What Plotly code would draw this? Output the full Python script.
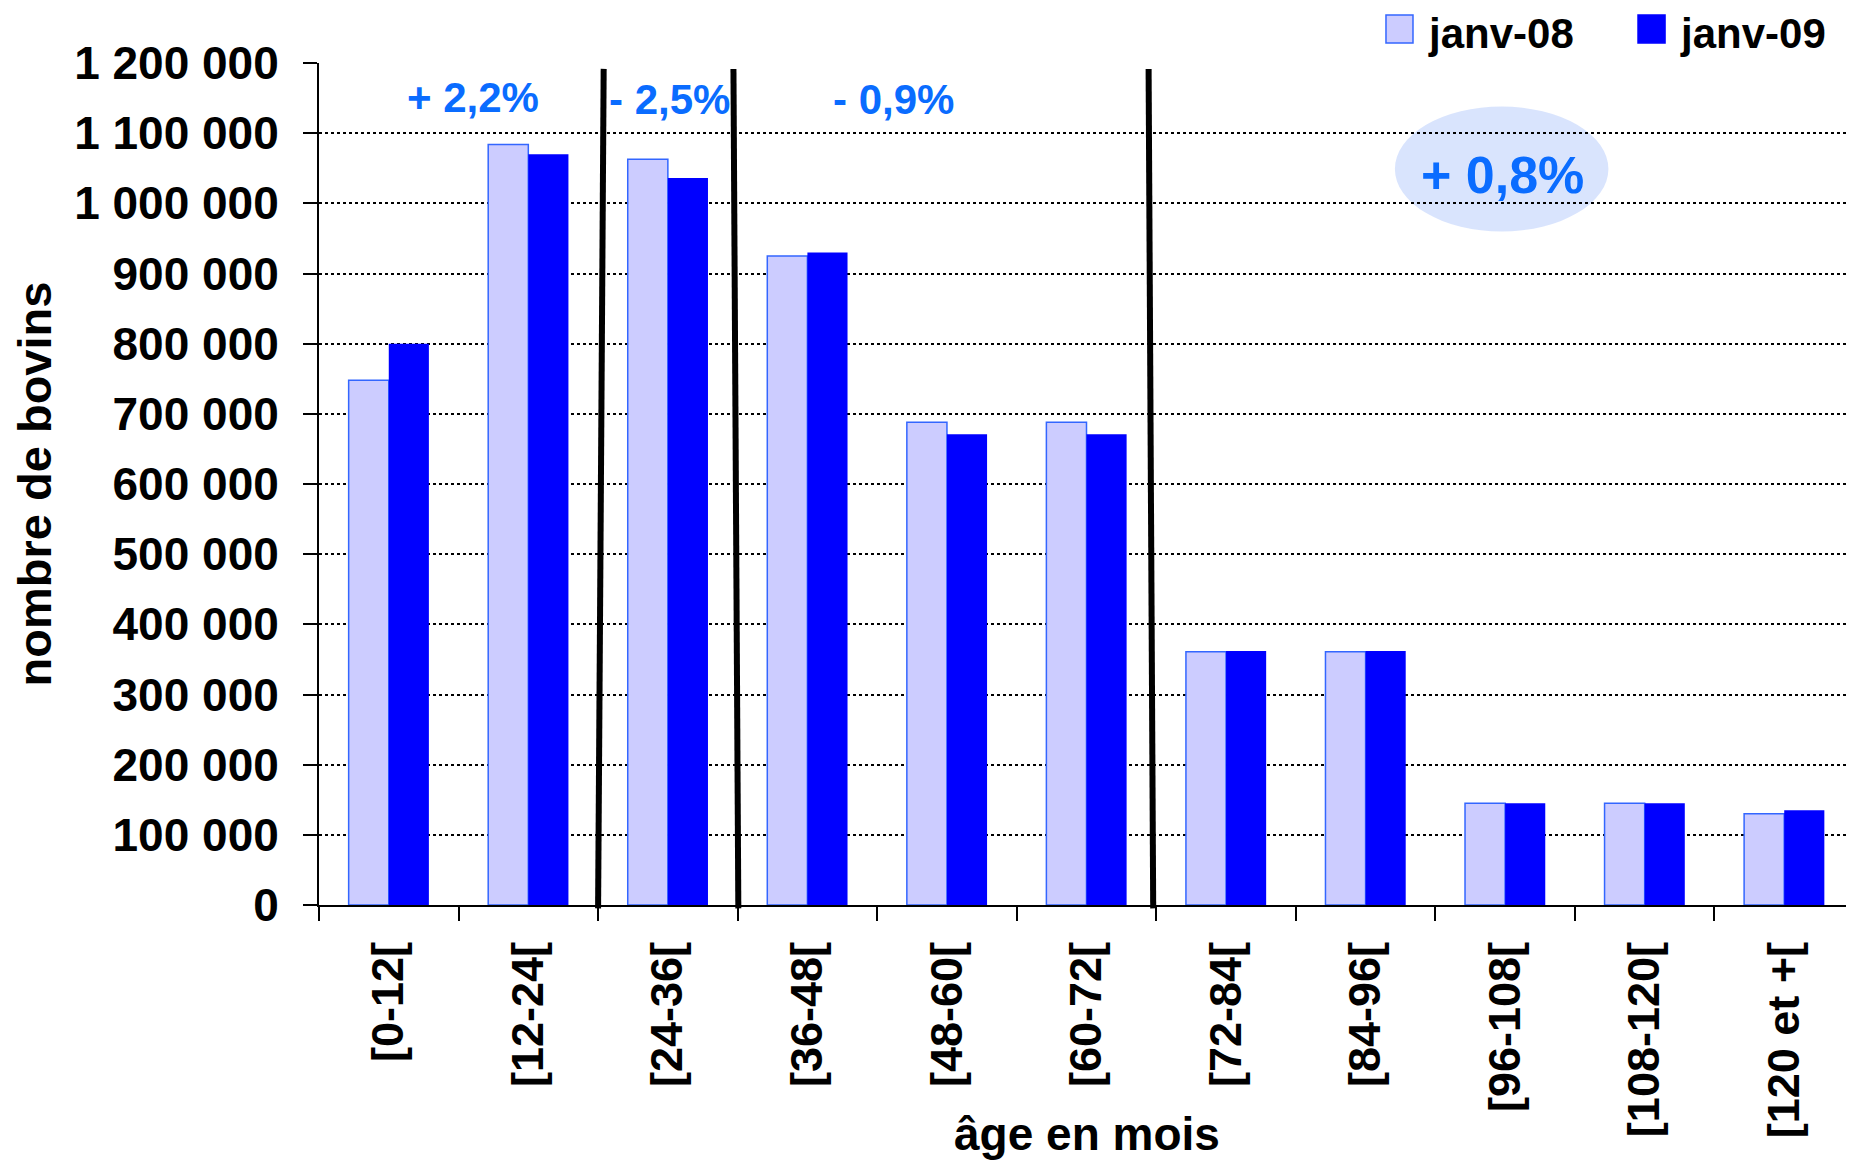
import plotly.graph_objects as go

categories = ["[0-12[", "[12-24[", "[24-36[", "[36-48[", "[48-60[", "[60-72[",
              "[72-84[", "[84-96[", "[96-108[", "[108-120[", "[120 et +["]
janv08 = [748000, 1084000, 1063000, 925000, 688000, 688000, 361000, 361000, 145000, 145000, 130000]
janv09 = [800000, 1070000, 1036000, 930000, 671000, 671000, 362000, 362000, 145000, 145000, 135000]
y_ticks = [0, 100000, 200000, 300000, 400000, 500000, 600000, 700000, 800000, 900000,
           1000000, 1100000, 1200000]
series_names = ["janv-08", "janv-09"]
changes = ["+ 2,2%", "- 2,5%", "- 0,9%"]
total_change = "+ 0,8%"

FONT = "Liberation Sans, Arial, sans-serif"
BLUE_TXT = "#0a6cff"
LIGHT = "#ccccff"
LIGHT_EDGE = "#3366ff"
DARK = "#0000ff"

fig = go.Figure()
fig.add_trace(go.Bar(name=series_names[0], x=categories, y=janv08, showlegend=False,
                     marker=dict(color=LIGHT, line=dict(color=LIGHT_EDGE, width=1.5))))
fig.add_trace(go.Bar(name=series_names[1], x=categories, y=janv09, showlegend=False,
                     marker=dict(color=DARK, line=dict(color=DARK, width=0))))

# thick black separator lines (slightly slanted)
seps = [(1.54, 1.50), (2.47, 2.505), (5.445, 5.478)]
for xt, xb in seps:
    fig.add_shape(type="line", xref="x", yref="paper", x0=xb, y0=-0.004, x1=xt, y1=0.993,
                  line=dict(color="black", width=6), layer="above")

# ellipse behind "+ 0,8%"
fig.add_shape(type="circle", xref="x", yref="y", x0=7.21, x1=8.74, y0=960000, y1=1138000,
              fillcolor="rgba(165,190,250,0.42)", line=dict(width=0), layer="below")

ann_pos = [(0.60, 1151000), (2.01, 1148000), (3.615, 1148000)]
for txt, (ax, ay) in zip(changes, ann_pos):
    fig.add_annotation(x=ax, y=ay, xref="x", yref="y", text=txt, showarrow=False,
                       font=dict(family=FONT, size=42, color=BLUE_TXT, weight="bold"))
fig.add_annotation(x=7.98, y=1041000, xref="x", yref="y", text=total_change, showarrow=False,
                   font=dict(family=FONT, size=52, color=BLUE_TXT, weight="bold"))

# legend (drawn manually for large square swatches)
legend_items = [(series_names[0], LIGHT, LIGHT_EDGE, 0.6951), (series_names[1], DARK, DARK, 0.8593)]
for name, fill, edge, lx in legend_items:
    fig.add_shape(type="rect", xref="paper", yref="paper", x0=lx, x1=lx + 0.0176,
                  y0=1.0238, y1=1.057, fillcolor=fill, line=dict(color=edge, width=1.5))
    fig.add_annotation(x=lx + 0.0267, y=1.035, xref="paper", yref="paper", text=name,
                       showarrow=False, xanchor="left", yanchor="middle", borderpad=0,
                       font=dict(family=FONT, size=42, color="black", weight="bold"))

# x axis title
fig.add_annotation(x=0.5003, y=-0.272, xref="paper", yref="paper", text="âge en mois",
                   showarrow=False, xanchor="center", yanchor="middle", borderpad=0,
                   font=dict(family=FONT, size=46, color="black", weight="bold"))

fig.update_layout(
    width=1846, height=1154,
    margin=dict(l=311, r=0, t=55, b=257),
    paper_bgcolor="white", plot_bgcolor="white",
    barmode="group", bargap=0.425, bargroupgap=0,
    separators=", ",
    showlegend=False,
    font=dict(family=FONT, size=44, color="black", weight="bold"),
    xaxis=dict(
        type="category", range=[-0.5, 10.5], automargin=False,
        showline=True, linecolor="black", linewidth=2,
        ticks="outside", tickson="boundaries", ticklen=14, tickwidth=1.5, tickcolor="black",
        tickangle=-90, ticklabelstandoff=17,
        tickfont=dict(family=FONT, size=45, color="black", weight="bold"),
        showgrid=False,
    ),
    yaxis=dict(
        range=[0, 1200000], tickvals=y_ticks, tickformat=",d", automargin=False,
        showline=True, linecolor="black", linewidth=2,
        ticks="outside", ticklen=14, tickwidth=1.5, tickcolor="black",
        ticklabelstandoff=15,
        tickfont=dict(family=FONT, size=46, color="black", weight="bold"),
        showgrid=True, gridcolor="black", gridwidth=2, griddash="dot",
        zeroline=False,
        title=dict(text="nombre de bovins", standoff=14,
                   font=dict(family=FONT, size=47, color="black", weight="bold")),
    ),
)

fig.write_html("out.html")
